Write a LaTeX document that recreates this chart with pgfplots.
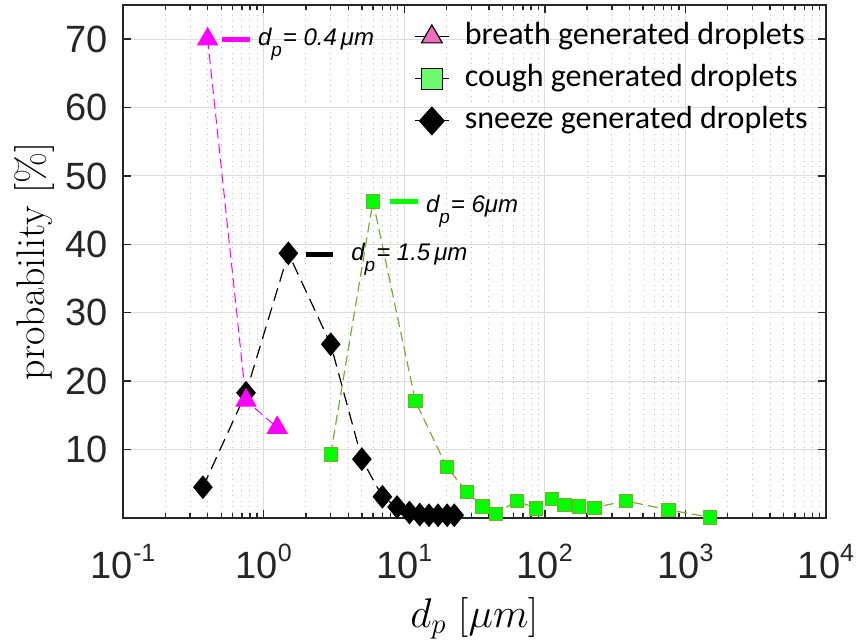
\documentclass[border=0pt]{standalone}
\usepackage{pgfplots}
\pgfplotsset{compat=1.18}
\usepackage{fontspec}
\newfontfamily\helv{Liberation Sans}
\newfontfamily\legfont{Carlito}

\definecolor{axgray}{HTML}{262626}
\definecolor{gridmaj}{HTML}{DCDCDC}
\definecolor{gridmin}{HTML}{BEBEBE}
\definecolor{cgreen}{HTML}{00FF00}
\definecolor{cedge}{HTML}{77AC30}
\definecolor{mag}{RGB}{255,0,255}
\definecolor{legpink}{RGB}{240,110,190}
\definecolor{leggreen}{RGB}{110,250,110}

% tick label 10^n in the sans font
\newcommand\ex[1]{10\raisebox{8.5pt}{\fontsize{12.5}{12.5}\selectfont #1}}
% annotation d_p = ...
\newcommand\dlab[1]{\helv\fontsize{12}{12}\selectfont\itshape d\raisebox{-5.5pt}{\fontsize{9.5}{9.5}\selectfont p}\kern0.5pt= #1}

\begin{document}
\begin{tikzpicture}
\path[use as bounding box] (-61.5pt,-61.5pt) rectangle (369pt,259pt);
\begin{axis}[
    at={(0,0)}, anchor=south west,
    scale only axis,
    width=351.5pt, height=256.5pt,
    xmode=log,
    xmin=0.1, xmax=10000,
    ymin=0, ymax=75,
    clip=false,
    axis line style={axgray, line width=0.9pt},
    every tick/.style={axgray, line width=0.7pt},
    major tick length=4pt,
    minor tick length=2.5pt,
    xtick={0.1,1,10,100,1000,10000},
    xticklabels={\ex{-1},\ex{0},\ex{1},\ex{2},\ex{3},\ex{4}},
    minor xtick={0.2,0.3,0.4,0.5,0.6,0.7,0.8,0.9,
                 2,3,4,5,6,7,8,9,
                 20,30,40,50,60,70,80,90,
                 200,300,400,500,600,700,800,900,
                 2000,3000,4000,5000,6000,7000,8000,9000},
    ytick={10,20,30,40,50,60,70},
    yticklabels={10,20,30,40,50,60,70},
    xticklabel style={font=\helv\fontsize{19}{19}\selectfont, text=axgray,
                      anchor=north, inner sep=0pt, yshift=-13pt},
    yticklabel style={font=\helv\fontsize{19}{19}\selectfont, text=axgray,
                      anchor=east, inner sep=0pt, xshift=-7.5pt},
    xmajorgrids, ymajorgrids, xminorgrids,
    major grid style={gridmaj, line width=0.5pt},
    minor grid style={gridmin, line width=0.5pt, dash pattern=on 0.5pt off 2.2pt},
    xlabel={$d_p$ [$\mu m$]},
    ylabel={probability [\%]},
    xlabel style={font=\fontsize{20}{24}\selectfont, anchor=base, inner sep=0pt,
                  at={(axis description cs:0.5,-0.2125)}},
    ylabel style={font=\fontsize{20}{24}\selectfont, anchor=south, inner sep=0pt,
                  at={(axis description cs:-0.0967,0.5)}},
    legend style={draw=none, fill=none, inner sep=0pt,
                  at={(1,1)}, xshift=-9pt, yshift=-8pt, anchor=north east,
                  font=\legfont\fontsize{16}{16}\selectfont,
                  row sep=5.5pt,
                  nodes={inner sep=0pt, text height=11.5pt, text depth=4pt}},
    legend cell align=left,
    legend image code/.code={
        \path (0cm,0cm) (0.88cm,0cm);
        \draw[mark repeat=2,mark phase=2,#1] plot coordinates {(0cm,0cm)(0.3cm,0cm)(0.6cm,0cm)};},
]

% legend entries
\addlegendimage{draw=none, mark=triangle*, mark size=6pt, mark options={fill=legpink, draw=black, line width=0.6pt}}
\addlegendentry{breath generated droplets}
\addlegendimage{draw=none, mark=square*, mark size=5.3pt, mark options={fill=leggreen, draw=black, line width=0.6pt}}
\addlegendentry{cough generated droplets}
\addlegendimage{draw=none, mark=diamond*, mark size=7pt, mark options={fill=black, draw=black, xscale=1.2}}
\addlegendentry{sneeze generated droplets}

% sneeze
\addplot[forget plot, black, line width=0.6pt, dash pattern=on 6.5pt off 3.5pt,
    mark=diamond*, mark size=5.5pt, mark options={solid, fill=black, xscale=1.1}]
coordinates {
(0.37,4.5) (0.75,18.3) (1.5,38.7) (3.0,25.4) (5.0,8.6) (7.0,3.1)
(8.9,1.6) (10.9,0.8) (12.9,0.5) (15.0,0.4) (17.4,0.4) (20.2,0.4) (22.7,0.4)
};

% cough
\addplot[forget plot, cedge, line width=0.6pt, dash pattern=on 5pt off 2.5pt,
    mark=square*, mark size=3.3pt, mark options={solid, fill=cgreen, draw=cedge, line width=0.4pt}]
coordinates {
(3.0,9.3) (6.0,46.3) (12,17.1) (20,7.5) (28,3.8) (36,1.7) (45,0.6)
(63,2.5) (87,1.4) (112,2.8) (138,1.9) (175,1.7) (225,1.5) (376,2.5)
(756,1.2) (1500,0.1)
};

% breath
\addplot[forget plot, mag, line width=0.5pt, dash pattern=on 5pt off 2.5pt,
    mark=triangle*, mark size=5.7pt, mark options={solid, fill=mag, draw=mag}]
coordinates {
(0.4,70) (0.75,17.2) (1.25,13.2)
};

% annotations
\draw[mag, line width=2.4pt] (axis cs:0.4,70) ++(7pt,0pt) -- ++(14pt,0pt)
    node[anchor=base west, inner sep=0pt, xshift=3pt, yshift=-3.4pt, text=black] {\dlab{0.4\,μm}};
\draw[cgreen, line width=2.4pt] (axis cs:6,46.3) ++(8.3pt,0pt) -- ++(14pt,0pt)
    node[anchor=base west, inner sep=0pt, xshift=3pt, yshift=-5.4pt, text=black] {\dlab{6μm}};
\draw[black, line width=2.4pt] (axis cs:1.5,38.7) ++(9pt,-0.8pt) -- ++(13.3pt,0pt)
    node[anchor=base west, inner sep=0pt, xshift=8pt, yshift=-2.6pt, text=black] {\dlab{1.5\,μm}};

\end{axis}
\end{tikzpicture}
\end{document}
